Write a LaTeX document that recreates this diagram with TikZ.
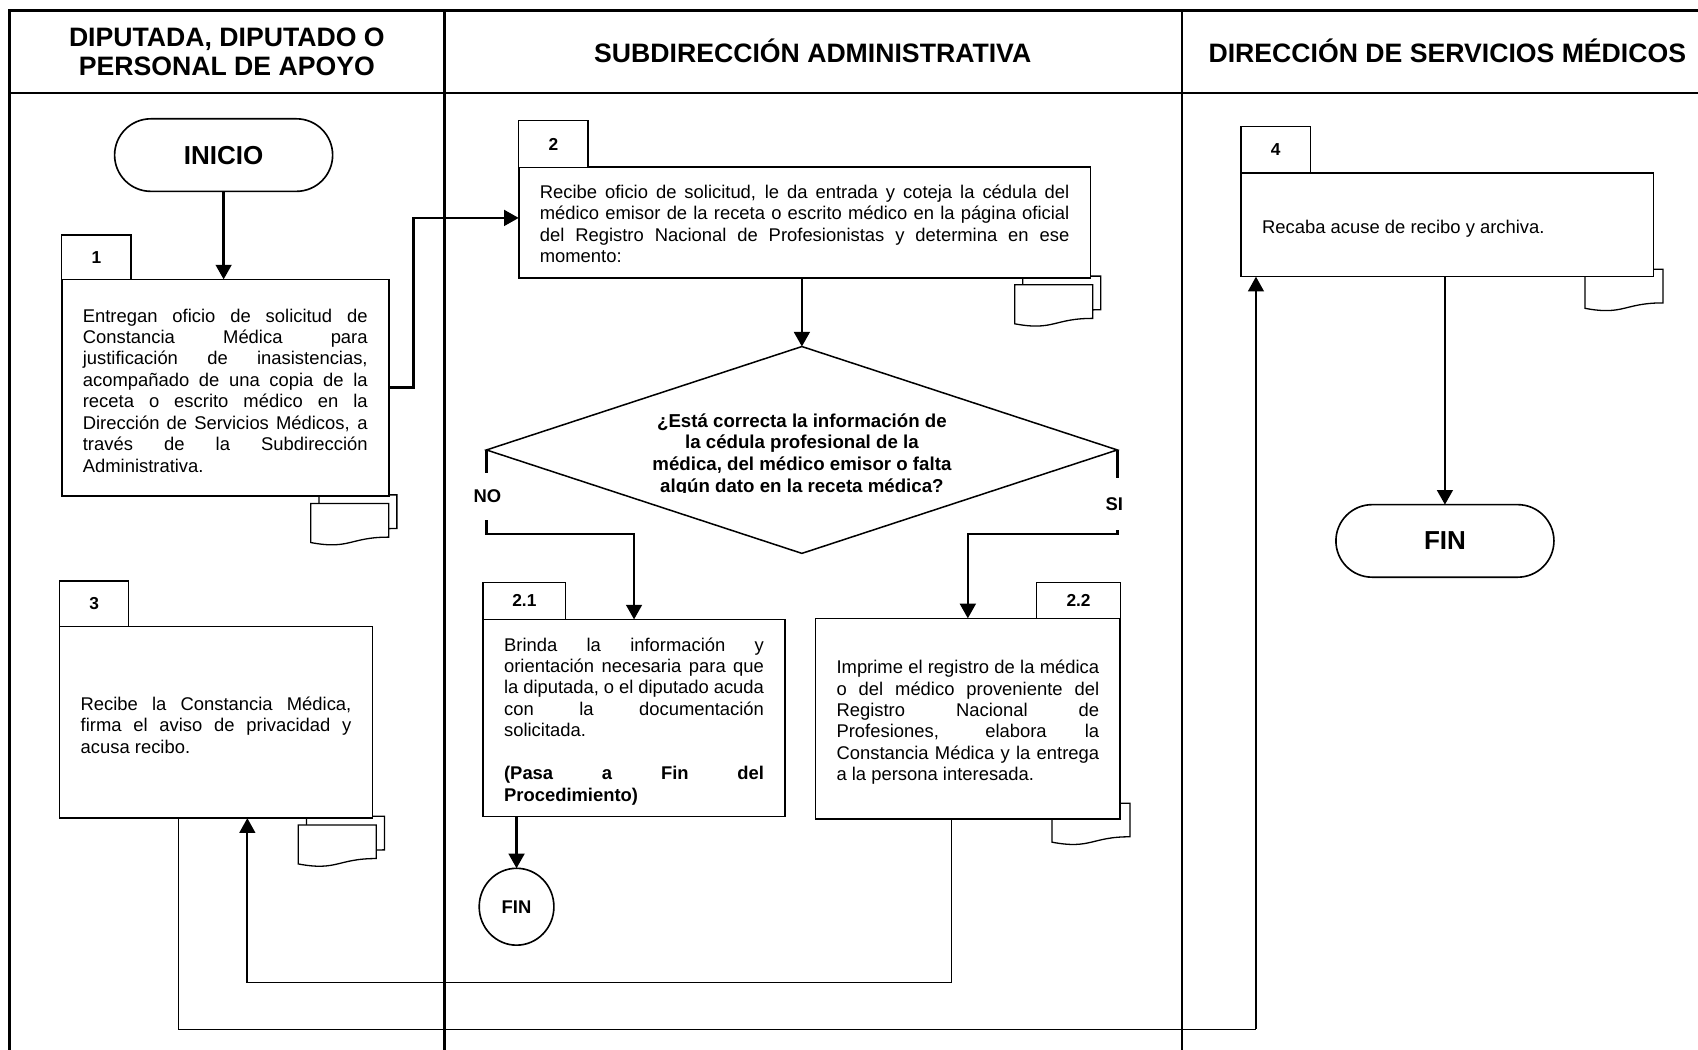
\documentclass[tikz,border=0pt]{standalone}
\usepackage{fontspec}
\setmainfont{Liberation Sans}
\usetikzlibrary{shapes.geometric,shapes.misc,arrows.meta,calc,backgrounds}

% the font's own interword glue (stretchable), instead of TikZ's fixed one
\newcommand\natsp{\spaceskip=0pt\xspaceskip=0pt\relax}
% one justified line of a paragraph with fixed line breaks
\newcommand\jline[1]{\makebox[\hsize][s]{\natsp#1}}

\tikzset{
  pics/docone/.style={code={
    \path[docshape] (0,0) -- (72,0) -- (72,31) .. controls (36,31) and (36,42.8) .. (0,36) -- cycle;}},
  pics/doctwo/.style={code={
    \path[docshape] (7.5,-8) -- (79.5,-8) -- (79.5,23) .. controls (43.5,23) and (43.5,34.8) .. (7.5,28) -- cycle;
    \path[docshape] (0,0) -- (72,0) -- (72,31) .. controls (36,31) and (36,42.8) .. (0,36) -- cycle;}},
}

\begin{document}
\hbadness=10000
\begin{tikzpicture}[x=1pt,y=-1pt,
  frameline/.style={line width=2.5pt},
  box/.style={draw, line width=1.5pt, fill=white, anchor=north west, outer sep=0pt,
    inner xsep=19.5pt, inner ysep=0pt, align=justify, font=\fontsize{17}{19.8}\selectfont,
    execute at begin node={\natsp\rule{0pt}{#1}}},
  box/.default=17.5pt,
  tab/.style={draw, line width=1pt, fill=white, outer sep=0pt, inner sep=0pt,
    font=\fontsize{16}{18}\selectfont\bfseries},
  term/.style={draw, rounded rectangle, line width=1.5pt, outer sep=0pt,
    minimum width=208pt, minimum height=67pt, font=\fontsize{24}{28}\selectfont\bfseries},
  hdr/.style={font=\fontsize{24.6}{27}\selectfont\bfseries, align=center,
    execute at begin node=\natsp},
  lbl/.style={fill=white, inner xsep=2pt, inner ysep=0pt, font=\fontsize{17}{20}\selectfont\bfseries},
  flow/.style={line width=2.3pt, -{Triangle[length=13.5pt,width=14.5pt]}},
  ret/.style={line width=1.1pt},
  retarr/.style={line width=1.7pt, -{Triangle[length=13.5pt,width=14.5pt]}},
  docshape/.style={draw, line width=1.2pt, fill=white},
]
\useasboundingbox (0,0) rectangle (1568,969);

% swimlane frame
\draw[frameline] (9,980) -- (9,9.5) -- (1590,9.5);
\draw[frameline] (9,86) -- (1590,86);
\draw[frameline] (410.5,9.5) -- (410.5,980);
\draw[frameline] (1091.5,9.5) -- (1091.5,980);

% lane headers
\node[hdr] (h1) at (209.5,48) {DIPUTADA, DIPUTADO O\\PERSONAL DE APOYO};
\node[hdr] (h2) at (750.5,46.5) {SUBDIRECCIÓN ADMINISTRATIVA};
\node[hdr] (h3) at (1336.5,46.5) {DIRECCIÓN DE SERVICIOS MÉDICOS};

% terminals
\node[term] (ini) at (206.5,143.2) {INICIO};
\node[term] (fin2) at (1334.3,499.5) {FIN};
\node[draw, ellipse, line width=1.5pt, outer sep=0pt, minimum width=69pt, minimum height=71pt,
  inner sep=0pt, font=\fontsize{17}{20}\selectfont\bfseries] (fin1) at (477,837.3) {FIN};

% activity 1
\node[box, text width=263pt, minimum height=200pt] (b1) at (57,258) {%
\jline{Entregan oficio de solicitud de}\\
\jline{Constancia Médica para}\\
\jline{justificación de inasistencias,}\\
\jline{acompañado de una copia de la}\\
\jline{receta o escrito médico en la}\\
\jline{Dirección de Servicios Médicos, a}\\
\jline{través de la Subdirección}\\
Administrativa.};
\node[tab, minimum width=64pt, minimum height=41pt, anchor=south west] (t1) at (b1.north west) {1};

% activity 2
\node[box=14.5pt, text width=489pt, minimum height=102.5pt] (b2) at (479,154.5) {%
\jline{Recibe oficio de solicitud, le da entrada y coteja la cédula del}\\
\jline{médico emisor de la receta o escrito médico en la página oficial}\\
\jline{del Registro Nacional de Profesionistas y determina en ese}\\
momento:};
\node[tab, minimum width=64pt, minimum height=43pt, anchor=south west] (t2) at (b2.north west) {2};

% activity 4
\node[box=20.5pt, text width=342pt, minimum height=96pt] (b4) at (1146,159.5) {Recaba acuse de recibo y archiva.};
\node[tab, minimum width=64pt, minimum height=42.5pt, anchor=south west] (t4) at (b4.north west) {4};

% activity 3
\node[box, text width=250pt, minimum height=177pt] (b3) at (55,578.5) {%
\jline{Recibe la Constancia Médica,}\\
\jline{firma el aviso de privacidad y}\\
acusa recibo.};
\node[tab, minimum width=64pt, minimum height=42pt, anchor=south west] (t3) at (b3.north west) {3};

% activity 2.1
\node[box=18.5pt, text width=240pt, minimum height=182pt] (b21) at (446,572) {%
\jline{Brinda la información y}\\
\jline{orientación necesaria para que}\\
\jline{la diputada, o el diputado acuda}\\
\jline{con la documentación}\\
solicitada.\\[19.8pt]
\jline{\bfseries (Pasa a Fin del}\\
{\bfseries Procedimiento)}};
\node[tab, minimum width=76.5pt, minimum height=34.5pt, anchor=south west] (t21) at (b21.north west) {2.1};

% activity 2.2
\node[box=19.5pt, text width=242.5pt, minimum height=185pt] (b22) at (753,571) {%
\jline{Imprime el registro de la médica}\\
\jline{o del médico proveniente del}\\
\jline{Registro Nacional de}\\
\jline{Profesiones, elabora la}\\
\jline{Constancia Médica y la entrega}\\
a la persona interesada.};
\node[tab, minimum width=77pt, minimum height=33.5pt, anchor=south east] (t22) at (b22.north east) {2.2};

% decision
\node[draw, diamond, line width=1.4pt, outer sep=0pt, minimum width=582.5pt, minimum height=191pt,
  inner sep=0pt] (d) at (740.5,415.5) {};
\begin{scope}
  \clip (560,360) rectangle (920,455);
  \node[align=center, font=\fontsize{17.25}{20}\selectfont\bfseries,
    execute at begin node=\natsp] (q) at (740.5,420)
    {¿Está correcta la información de\\la cédula profesional de la\\médica, del médico emisor o falta\\algún dato en la receta médica?};
\end{scope}

% documents
\begin{pgfonlayer}{background}
  \pic at ([shift={(-72,7)}]b1.south east) {doctwo};
  \pic at ([shift={(-70,6)}]b2.south east) {doctwo};
  \pic at ([shift={(-68.5,6.3)}]b3.south east) {doctwo};
  \pic at ([shift={(-63.4,-6.8)}]b4.south east) {docone};
  \pic at ([shift={(-63,-14.3)}]b22.south east) {docone};
\end{pgfonlayer}

% connectors
\draw[flow] (ini.south) -- (ini.south |- b1.north);
\draw[flow] (b1.east) -- ++(23,0) |- ([yshift=4.5pt]b2.west);
\draw[flow] (d.north |- b2.south) -- (d.north);
\draw[flow] (d.west) -- ++(0,77.5) -| (b21.north);
\draw[flow] (d.east) -- ++(0,77.5) -| (b22.north);
\node[lbl, minimum height=43pt] (no) at (450,458.5) {NO};
\node[lbl, minimum height=47.5pt] (si) at (1029,465.5) {SI};
\draw[flow] (fin1.north |- b21.south) -- (fin1.north);
\draw[flow] (fin2.north |- b4.south) -- (fin2.north);

% returns to activities 3 and 4
\coordinate (r1) at (878.6,907.4);
\coordinate (r1a) at (228.4,907.4);
\draw[ret] (r1 |- b22.south) -- (r1) -- (r1a);
\draw[retarr] (r1a) -- (r1a |- b3.south);
\coordinate (r2) at (164.7,950.3);
\coordinate (r2a) at (1159.8,950.3);
\draw[ret] (r2 |- b3.south) -- (r2) -- (r2a);
\draw[retarr] (r2a) -- (r2a |- b4.south);

\end{tikzpicture}
\end{document}
